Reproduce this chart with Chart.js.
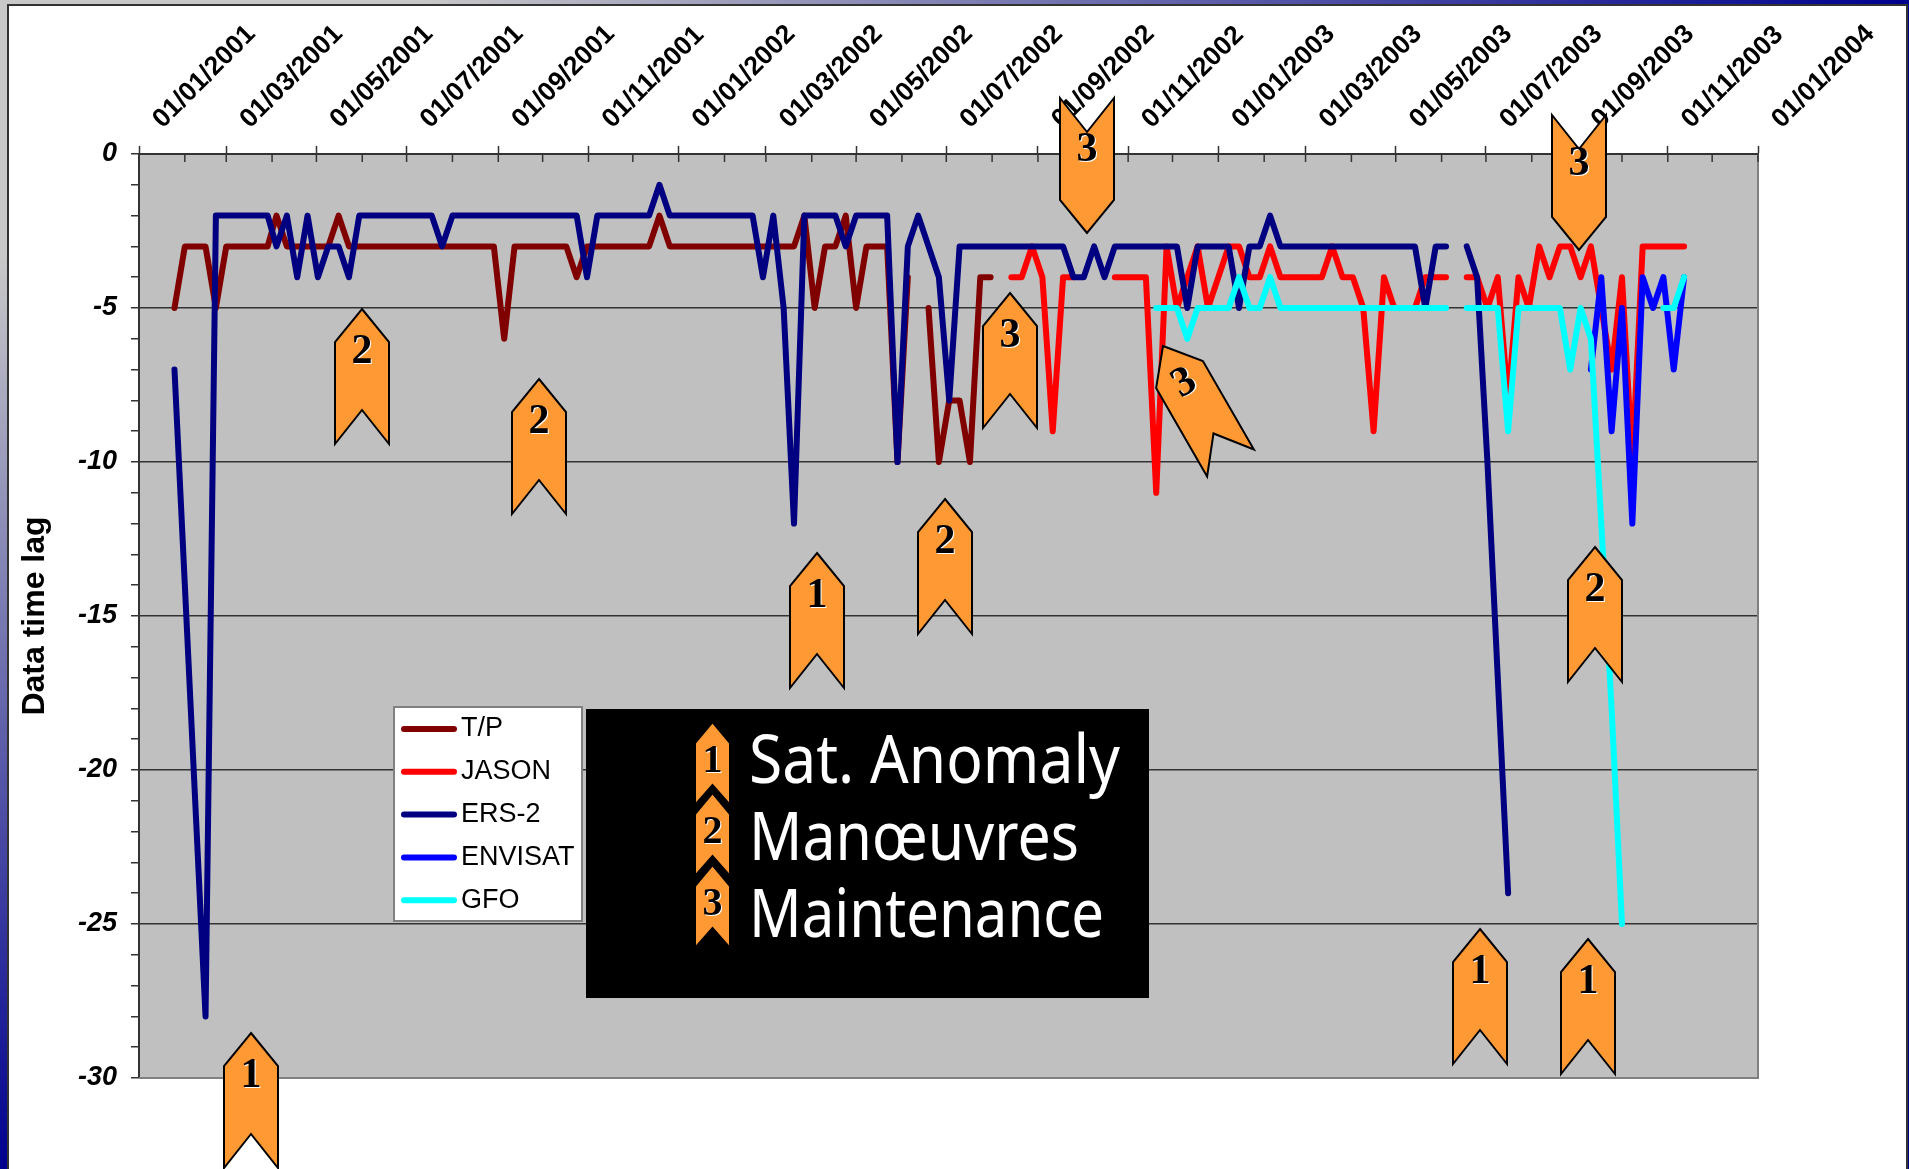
<!DOCTYPE html>
<html lang="en">

<head>
    <meta charset="UTF-8">
    <title>Data time lag</title>
    <script src="https://cdn.jsdelivr.net/npm/chart.js"></script>
    <style>
        html, body {
            margin: 0;
            padding: 0;
            width: 1909px;
            height: 1169px;
            overflow: hidden;
            background: radial-gradient(ellipse 1909px 1169px at 0 0, #c8c8c8 22%, #00008f 100%);
        }

        .panel {
            position: absolute;
            left: 7px;
            top: 4px;
            width: 1897px;
            height: 1170px;
            background: #fff;
            border: 2px solid #333;
        }

        canvas {
            position: absolute;
            left: 0;
            top: 0;
        }
    </style>
</head>

<body>
    <div class="panel"></div>
    <canvas id="lagChart" width="1909" height="1169"></canvas>

    <script>
        const gap = n => Array(n).fill(null);

        // first day of every month, counted from 01/01/2001
        const monthDays = [0, 31, 59, 90, 120, 151, 181, 212, 243, 273, 304, 334,
            365, 396, 424, 455, 485, 516, 546, 577, 608, 638, 669, 699,
            730, 761, 789, 820, 850, 881, 911, 942, 973, 1003, 1034, 1064, 1095];
        const monthLabels = ['01/01/2001', '', '01/03/2001', '', '01/05/2001', '', '01/07/2001', '', '01/09/2001', '', '01/11/2001', '',
            '01/01/2002', '', '01/03/2002', '', '01/05/2002', '', '01/07/2002', '', '01/09/2002', '', '01/11/2002', '',
            '01/01/2003', '', '01/03/2003', '', '01/05/2003', '', '01/07/2003', '', '01/09/2003', '', '01/11/2003', '', '01/01/2004'];

        // weekly samples, days since 01/01/2001
        const sampleDays = [24, 31, 38, 45, 52, 59, 66, 73, 80, 87,
            93, 100, 107, 114, 121, 128, 135, 142, 149, 156,
            163, 170, 177, 184, 191, 198, 205, 212, 219, 226,
            233, 240, 247, 254, 261, 268, 275, 282, 289, 296,
            303, 310, 317, 324, 331, 338, 345, 352, 359, 366,
            373, 380, 387, 394, 401, 408, 415, 422, 429, 436,
            443, 450, 457, 464, 471, 478, 485, 492, 499, 506,
            513, 520, 527, 534, 541, 548, 555, 562, 569, 576,
            583, 590, 597, 604, 611, 618, 625, 632, 639, 646,
            653, 660, 667, 674, 681, 688, 695, 702, 709, 716,
            723, 730, 737, 744, 751, 758, 765, 772, 779, 786,
            793, 800, 807, 814, 821, 828, 835, 842, 849, 856,
            863, 870, 877, 884, 891, 898, 905, 912, 919, 926,
            933, 940, 947, 954, 961, 968, 975, 982, 989, 996,
            1003, 1010, 1017, 1024, 1031, 1038, 1045];

        const tpLag = [-5, -3, -3, -3, -5, -3, -3, -3, -3, -3,
            -2, -3, -3, -3, -3, -3, -2, -3, -3, -3,
            -3, -3, -3, -3, -3, -3, -3, -3, -3, -3,
            -3, -3, -6, -3, -3, -3, -3, -3, -3, -4,
            -3, -3, -3, -3, -3, -3, -3, -2, -3, -3,
            -3, -3, -3, -3, -3, -3, -3, -3, -3, -3,
            -3, -2, -5, -3, -3, -2, -5, -3, -3, -3,
            -10, -4, null, -5, -10, -8, -8, -10, -4, -4,
            ...gap(67)];

        const jasonLag = [...gap(81),
            -4, -4, -3, -4, -9, -4, -4, null, null,
            null, -4, -4, -4, -4, -11, -3, -5, -4, -3,
            -5, -4, -3, -3, -4, -4, -3, -4, -4, -4,
            -4, -4, -3, -4, -4, -5, -9, -4, -5, -5,
            -5, -4, -4, -4, null, -4, -4, -5, -4, -8,
            -4, -5, -3, -4, -3, -3, -4, -3, -5, -7,
            -4, -10, -3, -3, -3, -3, -3];

        const ers2Lag = [-7, -14, -21, -28, -2, -2, -2, -2, -2, -2,
            -3, -2, -4, -2, -4, -3, -3, -4, -2, -2,
            -2, -2, -2, -2, -2, -2, -3, -2, -2, -2,
            -2, -2, -2, -2, -2, -2, -2, -2, -2, -2,
            -4, -2, -2, -2, -2, -2, -2, -1, -2, -2,
            -2, -2, -2, -2, -2, -2, -2, -4, -2, -5,
            -12, -2, -2, -2, -2, -3, -2, -2, -2, -2,
            -10, -3, -2, -3, -4, -8, -3, -3, -3, -3,
            -3, -3, -3, -3, -3, -3, -3, -4, -4, -3,
            -4, -3, -3, -3, -3, -3, -3, -3, -5, -3,
            -3, -3, -3, -5, -3, -3, -2, -3, -3, -3,
            -3, -3, -3, -3, -3, -3, -3, -3, -3, -3,
            -3, -5, -3, -3, null, -3, -4, -10, -17, -24,
            ...gap(17)];

        const envisatLag = [...gap(137), -7, -4, -9, -5, -12, -4, -5, -4, -7, -4];

        const gfoLag = [...gap(95),
            -5, -5, -5, -6, -5,
            -5, -5, -5, -4, -5, -5, -4, -5, -5, -5,
            -5, -5, -5, -5, -5, -5, -5, -5, -5, -5,
            -5, -5, -5, -5, null, -5, -5, -5, -5, -9,
            -5, -5, -5, -5, -5, -7, -5, -6, -12, -18,
            -25, null, null, null, -5, -5, -4];

        const seriesNames = ['T/P', 'JASON', 'ERS-2', 'ENVISAT', 'GFO'];
        const seriesColors = ['#800000', '#ff0000', '#000080', '#0000ff', '#00ffff'];
        const seriesLags = [tpLag, jasonLag, ers2Lag, envisatLag, gfoLag];

        const causeNames = ['Sat. Anomaly', 'Manœuvres', 'Maintenance'];

        // event flags: number, tip position in pixels, rotation in degrees
        const flags = [
            [1, 251, 1033, 0], [2, 362, 309, 0], [2, 539, 379, 0], [1, 817, 553, 0],
            [2, 945, 499, 0], [3, 1010, 293, 0], [1, 1480, 929, 0], [1, 1588, 939, 0],
            [2, 1595, 547, 0], [3, 1163, 346, -30]
        ];
        // these two hang upside down, the number stays upright
        const flippedFlags = [[3, 1087, 233, 150], [3, 1579, 250, 164]];

        function flagPath(ctx, w, shoulder, notch, h) {
            ctx.beginPath();
            ctx.moveTo(0, 0);
            ctx.lineTo(w / 2, shoulder);
            ctx.lineTo(w / 2, h);
            ctx.lineTo(0, notch);
            ctx.lineTo(-w / 2, h);
            ctx.lineTo(-w / 2, shoulder);
            ctx.closePath();
            ctx.fillStyle = '#ff9933';
            ctx.fill();
            ctx.lineWidth = 2;
            ctx.strokeStyle = '#000';
            ctx.stroke();
        }

        function flagNumber(ctx, n, x, y, size) {
            ctx.font = 'bold ' + size + 'px "Liberation Serif"';
            ctx.textAlign = 'center';
            ctx.textBaseline = 'middle';
            ctx.fillStyle = '#fff';
            ctx.fillText(n, x + 1, y + 1);
            ctx.fillStyle = '#000';
            ctx.fillText(n, x, y);
        }

        const plotDecor = {
            id: 'plotDecor',
            beforeDatasetsDraw(chart) {
                const ctx = chart.ctx, a = chart.chartArea;
                // grey right and bottom edges, minor marks inside the plot
                ctx.save();
                ctx.strokeStyle = '#808080';
                ctx.lineWidth = 2;
                ctx.beginPath();
                ctx.moveTo(a.right, a.top);
                ctx.lineTo(a.right, a.bottom);
                ctx.lineTo(a.left, a.bottom);
                ctx.stroke();
                ctx.strokeStyle = '#333';
                ctx.lineWidth = 1.5;
                monthDays.forEach(d => {
                    const x = chart.scales.x.getPixelForValue(d);
                    ctx.beginPath();
                    ctx.moveTo(x, a.top);
                    ctx.lineTo(x, a.top + 8);
                    ctx.stroke();
                });
                ctx.restore();
            },
            afterDatasetsDraw(chart) {
                const ctx = chart.ctx;
                ctx.save();

                // flags
                flags.forEach(([n, x, y, rot]) => {
                    ctx.save();
                    ctx.translate(x, y);
                    ctx.rotate(rot * Math.PI / 180);
                    flagPath(ctx, 54, 33, 101, 135);
                    flagNumber(ctx, n, 0, 43, 42);
                    ctx.restore();
                });
                flippedFlags.forEach(([n, x, y, numY]) => {
                    ctx.save();
                    ctx.translate(x, y);
                    ctx.rotate(Math.PI);
                    flagPath(ctx, 54, 33, 101, 135);
                    ctx.restore();
                    flagNumber(ctx, n, x, numY, 42);
                });

                // line legend
                ctx.fillStyle = '#fff';
                ctx.strokeStyle = '#808080';
                ctx.lineWidth = 2;
                ctx.fillRect(394, 707, 188, 214);
                ctx.strokeRect(394, 707, 188, 214);
                chart.data.datasets.forEach((ds, i) => {
                    const y = 729 + i * 42.8;
                    ctx.strokeStyle = ds.borderColor;
                    ctx.lineWidth = 6;
                    ctx.lineCap = 'round';
                    ctx.beginPath();
                    ctx.moveTo(404, y);
                    ctx.lineTo(454, y);
                    ctx.stroke();
                    ctx.fillStyle = '#000';
                    ctx.font = '27px "Liberation Sans"';
                    ctx.textAlign = 'left';
                    ctx.textBaseline = 'middle';
                    ctx.fillText(ds.label, 461, y);
                });

                // cause key
                ctx.fillStyle = '#000';
                ctx.fillRect(586, 709, 563, 289);
                [[722, 783, 371], [793, 860, 330], [865, 937, 355]].forEach(([top, base, w], i) => {
                    ctx.save();
                    ctx.translate(712.5, top);
                    flagPath(ctx, 35, 21, 63, 83);
                    ctx.restore();
                    flagNumber(ctx, i + 1, 712.5, top + 40, 40);
                    ctx.font = '68px "Noto Sans"';
                    ctx.fillStyle = '#fff';
                    ctx.textAlign = 'left';
                    ctx.textBaseline = 'alphabetic';
                    ctx.fillText(causeNames[i], 749, base, w);
                });
                ctx.restore();
            }
        };

        new Chart(document.getElementById('lagChart').getContext('2d'), {
            type: 'line',
            data: {
                datasets: seriesNames.map((name, s) => ({
                    label: name,
                    data: sampleDays.map((d, i) => ({ x: d, y: seriesLags[s][i] })),
                    borderColor: seriesColors[s],
                    borderWidth: 6,
                    borderCapStyle: 'round',
                    borderJoinStyle: 'round',
                    pointRadius: 0,
                    tension: 0,
                    spanGaps: false,
                    order: seriesNames.length - s
                }))
            },
            options: {
                responsive: false,
                animation: false,
                layout: { padding: { right: 151, bottom: 91, left: 0, top: 0 } },
                plugins: { legend: { display: false }, tooltip: { enabled: false } },
                scales: {
                    x: {
                        type: 'linear',
                        position: 'top',
                        min: 0,
                        max: 1095,
                        afterFit: scale => { scale.height = 154; },
                        afterBuildTicks: scale => { scale.ticks = monthDays.map(d => ({ value: d })); },
                        grid: {
                            drawOnChartArea: false,
                            tickLength: 8,
                            tickWidth: 1.5,
                            tickColor: ctx => (monthLabels[ctx.index] ? '#333' : 'rgba(0,0,0,0)')
                        },
                        border: { color: '#333', width: 2 },
                        ticks: {
                            autoSkip: false,
                            minRotation: 45,
                            maxRotation: 45,
                            padding: 11,
                            labelOffset: 41,
                            color: '#000',
                            font: { family: '"Liberation Sans"', size: 26.5, weight: 'bold' },
                            callback: (v, i) => monthLabels[i]
                        }
                    },
                    y: {
                        min: -30,
                        max: 0,
                        afterFit: scale => { scale.width = 139; },
                        grid: {
                            color: ctx => (ctx.tick.value % 5 === 0 ? '#333' : 'rgba(0,0,0,0)'),
                            lineWidth: 1.5,
                            tickColor: '#333',
                            tickLength: 8
                        },
                        border: { color: '#333', width: 2 },
                        ticks: {
                            stepSize: 1,
                            autoSkip: false,
                            padding: 14,
                            color: '#000',
                            font: { family: '"Liberation Sans"', size: 27, weight: 'bold', style: 'italic' },
                            callback: v => (v % 5 === 0 ? String(v) : '')
                        },
                        title: {
                            display: true,
                            text: 'Data time lag',
                            color: '#000',
                            font: { family: '"Liberation Sans"', size: 32, weight: 'bold' },
                            padding: { top: 16, bottom: 0 }
                        }
                    }
                }
            },
            plugins: [{
                id: 'plotBackground',
                beforeDraw(chart) {
                    const a = chart.chartArea;
                    chart.ctx.fillStyle = '#c0c0c0';
                    chart.ctx.fillRect(a.left, a.top, a.right - a.left, a.bottom - a.top);
                }
            }, plotDecor]
        });
    </script>

</body>

</html>
